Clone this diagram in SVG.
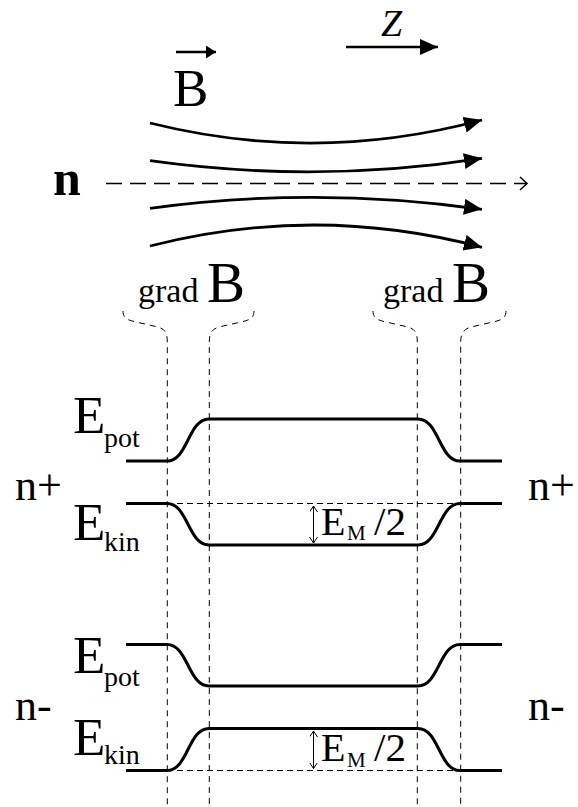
<svg xmlns="http://www.w3.org/2000/svg" width="578" height="807" viewBox="0 0 578 807">
<style>
.fl{fill:none;stroke:#000;stroke-width:2.8}
.lv{fill:none;stroke:#000;stroke-width:3}
.vd{fill:none;stroke:#000;stroke-width:1;stroke-dasharray:6 5}
.hd{fill:none;stroke:#000;stroke-width:1;stroke-dasharray:6 4}
.da{fill:none;stroke:#000;stroke-width:1;marker-start:url(#sm);marker-end:url(#sm)}
</style>
<defs>
<marker id="ah" markerUnits="userSpaceOnUse" markerWidth="20" markerHeight="18" refX="18" refY="8" orient="auto" viewBox="0 0 20 18"><path d="M0,0 L18,8 L0,16 Z" fill="#000"/></marker>
<marker id="ahs" markerUnits="userSpaceOnUse" markerWidth="12" markerHeight="14" refX="10" refY="6.5" orient="auto" viewBox="0 0 12 14"><path d="M0,0 L10,6.5 L0,13 Z" fill="#000"/></marker>
<marker id="sm" markerUnits="userSpaceOnUse" markerWidth="8" markerHeight="10" refX="6" refY="4" orient="auto-start-reverse" viewBox="0 0 8 10"><path d="M0,0 L6,4 L0,8" fill="none" stroke="#000" stroke-width="1"/></marker>
</defs>

<g id="connectors">
<path class="fl" d="M150,123 Q316,164.5 482,120" marker-end="url(#ah)"/>
<path class="fl" d="M150,160.7 Q316,184 482,158.3" marker-end="url(#ah)"/>
<path class="fl" d="M150,208.3 Q316,185.8 482,209.3" marker-end="url(#ah)"/>
<path class="fl" d="M150,246 Q316,203.4 482,247.3" marker-end="url(#ah)"/>
<path d="M106,183.5 H527" fill="none" stroke="#000" stroke-width="1.5" stroke-dasharray="16 8"/>
<path d="M520,177 L527,183.5 L520,190" fill="none" stroke="#000" stroke-width="1.5"/>
<path d="M346,47 H438" fill="none" stroke="#000" stroke-width="2.5" marker-end="url(#ah)"/>
<path d="M176,52 H216" fill="none" stroke="#000" stroke-width="2.5" marker-end="url(#ahs)"/>
</g>

<g id="braces">
<path class="vd" d="M123,311 C123,318 127,320 136,322 L158,327 C165,329 167.3,333 167.3,342 V807"/>
<path class="vd" d="M254,311 C254,318 250,320 241,322 L219,327 C212,329 209.3,333 209.3,342 V807"/>
<path class="vd" d="M373,311 C373,318 377,320 386,322 L408,327 C415,329 417.3,333 417.3,342 V807"/>
<path class="vd" d="M506,311 C506,318 502,320 493,322 L471,327 C464,329 460.7,333 460.7,342 V807"/>
</g>

<g id="levels">
<path class="lv" d="M126,461 H167 C188,461 188,419 209,419 H418 C439,419 439,461 460,461 H502"/>
<path class="lv" d="M126,503.5 H167 C188,503.5 188,545 209,545 H418 C439,545 439,503.5 460,503.5 H502"/>
<path class="lv" d="M126,644.5 H167 C188,644.5 188,686 209,686 H418 C439,686 439,644.5 460,644.5 H502"/>
<path class="lv" d="M126,770.5 H167 C188,770.5 188,728.5 209,728.5 H418 C439,728.5 439,770.5 460,770.5 H502"/>
<path class="hd" d="M167,503.5 H460"/>
<path class="hd" d="M167,770.5 H460"/>
<path class="da" d="M313.5,506 V543"/>
<path class="da" d="M313.5,731 V768.5"/>
</g>

<g id="labels" fill="#000" style="font-family:'Liberation Serif','Times New Roman',serif">
<text x="173" y="106" font-size="53">B</text>
<text x="381" y="36" font-size="38" font-style="italic">Z</text>
<text x="53" y="195" font-size="50" font-weight="bold">n</text>
<text x="138" y="302"><tspan font-size="34">grad </tspan><tspan font-size="57">B</tspan></text>
<text x="383" y="302"><tspan font-size="34">grad </tspan><tspan font-size="57">B</tspan></text>
<g id="np">
<text x="15" y="500" font-size="44">n+</text>
<text x="528" y="500" font-size="44">n+</text>
<text x="73" y="433" font-size="53">E</text><text x="104" y="447" font-size="28">pot</text>
<text x="73" y="540" font-size="53">E</text><text x="104" y="551" font-size="28">kin</text>
<text x="321" y="534.5" font-size="40">E</text><text x="347" y="540" font-size="21">M</text><text x="374" y="534.5" font-size="41">/2</text>
</g>
<g id="nm">
<text x="15" y="720" font-size="44">n-</text>
<text x="528" y="720" font-size="44">n-</text>
<text x="73" y="672.5" font-size="53">E</text><text x="104" y="686" font-size="28">pot</text>
<text x="73" y="755" font-size="53">E</text><text x="104" y="763.5" font-size="28">kin</text>
<text x="321" y="761" font-size="40">E</text><text x="347" y="766.5" font-size="21">M</text><text x="374" y="761" font-size="41">/2</text>
</g>
</g>
</svg>
